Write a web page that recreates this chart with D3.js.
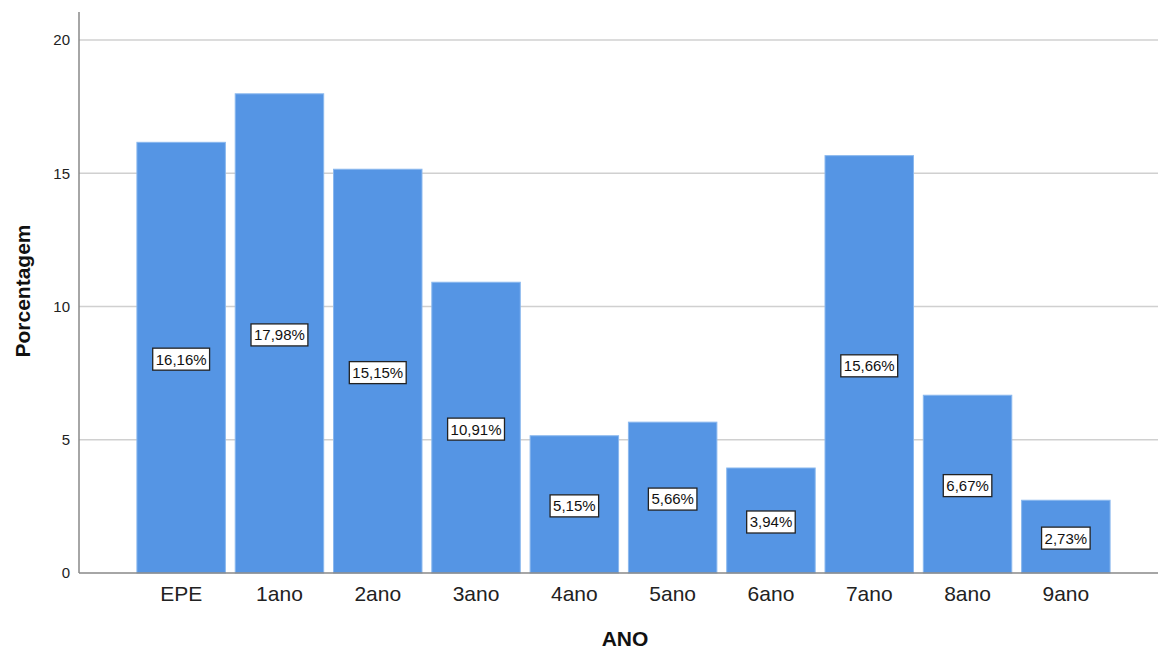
<!DOCTYPE html>
<html>
<head>
<meta charset="utf-8">
<script src="https://cdn.jsdelivr.net/npm/d3@7"></script>
<style>
  body { margin: 0; background: #fff; }
  svg { display: block; font-family: Arial, "Liberation Sans", sans-serif; }
</style>
</head>
<body>
<svg id="chart" width="1159" height="650"></svg>
<script>
// School year categories and share of students (%)
const categories = ["EPE", "1ano", "2ano", "3ano", "4ano", "5ano", "6ano", "7ano", "8ano", "9ano"];
const percentages = [16.16, 17.98, 15.15, 10.91, 5.15, 5.66, 3.94, 15.66, 6.67, 2.73];
const yTicks = [0, 5, 10, 15, 20];

const svg = d3.select("#chart");
const axisX = 79, plotRight = 1158, baseY = 573, topY = 12;
const font = "Arial, 'Liberation Sans', sans-serif";

const y = d3.scaleLinear().domain([0, 21.05]).range([baseY, topY]);
const x = d3.scaleBand()
  .domain(categories)
  .range([132, 1115])
  .paddingInner(0.1)
  .paddingOuter(0.05);

// horizontal gridlines
svg.append("g")
  .selectAll("line")
  .data(yTicks.filter(d => d > 0))
  .join("line")
  .attr("x1", axisX).attr("x2", plotRight)
  .attr("y1", d => y(d)).attr("y2", d => y(d))
  .attr("stroke", "#d0d0d0").attr("stroke-width", 1.5);

// bars
svg.append("g")
  .selectAll("rect")
  .data(categories)
  .join("rect")
  .attr("x", d => x(d))
  .attr("width", x.bandwidth())
  .attr("y", (d, i) => y(percentages[i]))
  .attr("height", (d, i) => baseY - y(percentages[i]))
  .attr("fill", "#5595e4")
  .attr("stroke", "#8ab8ee")
  .attr("stroke-width", 1);

// y axis
const yAxis = svg.append("g")
  .attr("transform", `translate(${axisX},0)`)
  .call(d3.axisLeft(y).tickValues(yTicks).tickSize(0).tickPadding(9));
yAxis.select(".domain").remove();
yAxis.selectAll("text").attr("font-size", 15).attr("fill", "#222").attr("font-family", font);
svg.append("line")
  .attr("x1", axisX).attr("x2", axisX).attr("y1", topY).attr("y2", baseY)
  .attr("stroke", "#888").attr("stroke-width", 1.5);

// x axis
const xAxis = svg.append("g")
  .attr("transform", `translate(0,${baseY})`)
  .call(d3.axisBottom(x).tickSize(0).tickPadding(13));
xAxis.select(".domain").remove();
xAxis.selectAll("text").attr("font-size", 21).attr("fill", "#222").attr("font-family", font);
svg.append("line")
  .attr("x1", axisX).attr("x2", plotRight).attr("y1", baseY).attr("y2", baseY)
  .attr("stroke", "#888").attr("stroke-width", 1.5);

// value labels at bar mid-height
const labels = svg.append("g")
  .selectAll("g")
  .data(categories)
  .join("g")
  .attr("transform", (d, i) => `translate(${x(d) + x.bandwidth() / 2},${y(percentages[i] / 2) + 1.5})`);
labels.append("text")
  .attr("text-anchor", "middle")
  .attr("dy", "0.36em")
  .attr("font-size", 15)
  .attr("fill", "#111")
  .text((d, i) => percentages[i].toFixed(2).replace(".", ",") + "%");
labels.each(function () {
  const g = d3.select(this);
  const bb = g.select("text").node().getBBox();
  g.insert("rect", "text")
    .attr("x", bb.x - 3).attr("y", -11)
    .attr("width", bb.width + 6).attr("height", 22)
    .attr("fill", "#fff").attr("stroke", "#222").attr("stroke-width", 1.3);
});

// axis titles
svg.append("text")
  .attr("x", 625).attr("y", 646)
  .attr("text-anchor", "middle")
  .attr("font-size", 21).attr("font-weight", "bold").attr("fill", "#111")
  .text("ANO");
svg.append("text")
  .attr("transform", "translate(30,291) rotate(-90)")
  .attr("text-anchor", "middle")
  .attr("font-size", 21).attr("font-weight", "bold").attr("fill", "#111")
  .text("Porcentagem");
</script>
</body>
</html>
